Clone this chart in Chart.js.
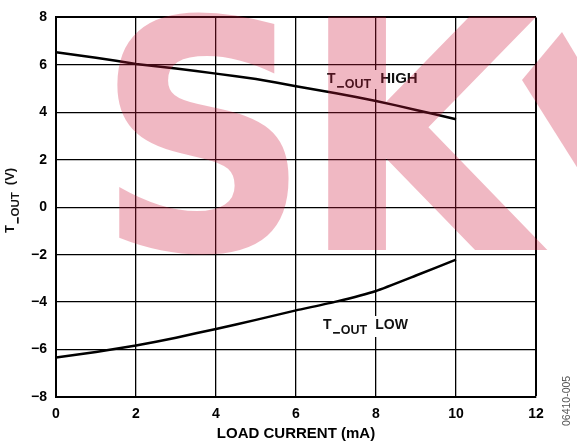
<!DOCTYPE html>
<html><head><meta charset="utf-8">
<script src="https://cdn.jsdelivr.net/npm/chart.js@4.4.1/dist/chart.umd.min.js"></script>
<style>html,body{margin:0;padding:0;background:#fff}#wrap{width:577px;height:445px}</style>
</head><body><div id="wrap"><canvas id="c" width="577" height="445"></canvas></div>
<script>
const loadCurrent = [0, 1, 2, 3, 4, 5, 6, 7, 8, 9, 10];
const toutHigh = [6.53, 6.30, 6.04, 5.85, 5.63, 5.40, 5.10, 4.80, 4.48, 4.10, 3.71];
const toutLow = [-6.34, -6.10, -5.83, -5.50, -5.13, -4.75, -4.35, -3.98, -3.53, -2.88, -2.21];
const xTicks = [0, 2, 4, 6, 8, 10, 12];
const yTicks = [-8, -6, -4, -2, 0, 2, 4, 6, 8];

const FONT = '"Liberation Sans", Arial, sans-serif';

function pts(xs, ys) { return xs.map((x, i) => ({ x: x, y: ys[i] })); }

function drawTout(ctx, x, y, size, subSize, suffix, suffixSize, gap) {
  ctx.textBaseline = 'alphabetic';
  ctx.textAlign = 'left';
  ctx.font = 'bold ' + size + 'px ' + FONT;
  ctx.fillText('T', x, y);
  const w = ctx.measureText('T').width;
  ctx.font = 'bold ' + subSize + 'px ' + FONT;
  ctx.fillRect(x + w + 1.5, y + 3, subSize * 0.55, 1.7);
  const ox = x + w + 1.5 + subSize * 0.62;
  ctx.fillText('OUT', ox, y + 5);
  const w2 = ctx.measureText('OUT').width;
  ctx.font = 'bold ' + suffixSize + 'px ' + FONT;
  ctx.fillText(suffix, ox + w2 + gap, y);
}

const overlay = {
  id: 'overlay',
  afterDatasetsDraw(chart) {
    const ctx = chart.ctx;
    ctx.save();
    // white boxes behind curve labels
    ctx.fillStyle = '#fff';
    ctx.fillRect(325, 70, 100, 19);
    ctx.fillRect(321, 316, 92, 21);
    ctx.fillStyle = '#111';
    drawTout(ctx, 327, 83, 14, 12.5, 'HIGH', 15, 9);
    drawTout(ctx, 323, 329, 14, 12.5, 'LOW', 14, 8);

    // y-axis title (rotated)
    ctx.save();
    ctx.translate(14, 233);
    ctx.rotate(-Math.PI / 2);
    ctx.fillStyle = '#111';
    drawTout(ctx, 0, 0, 13, 11.5, '(V)', 13, 7);
    ctx.restore();

    // side code
    ctx.save();
    ctx.translate(570, 426);
    ctx.rotate(-Math.PI / 2);
    ctx.font = '10.5px ' + FONT;
    ctx.fillStyle = '#555';
    ctx.textAlign = 'left';
    ctx.fillText('06410-005', 0, 0);
    ctx.restore();

    // watermark
    ctx.fillStyle = 'rgba(205,25,60,0.31)';
    ctx.textBaseline = 'alphabetic';
    ctx.textAlign = 'left';
    const letters = [['S', 96, 0.93], ['K', 300, 0.96]];
    letters.forEach(([ch, lx, sx]) => {
      ctx.save();
      ctx.translate(lx, 250);
      ctx.scale(sx, 1);
      ctx.font = 'bold 320px "DejaVu Sans", sans-serif';
      ctx.fillText(ch, 0, 0);
      ctx.restore();
    });
    // partial third letter, cut by the right edge
    ctx.beginPath();
    ctx.moveTo(562, 32);
    ctx.lineTo(580, 62);
    ctx.lineTo(580, 172);
    ctx.lineTo(522, 80);
    ctx.closePath();
    ctx.fill();
    ctx.restore();
  }
};

new Chart(document.getElementById('c'), {
  type: 'line',
  data: {
    datasets: [
      { label: 'T_OUT HIGH', data: pts(loadCurrent, toutHigh), borderColor: '#000', borderWidth: 2.5, pointRadius: 0, tension: 0.15, fill: false },
      { label: 'T_OUT LOW', data: pts(loadCurrent, toutLow), borderColor: '#000', borderWidth: 2.5, pointRadius: 0, tension: 0.15, fill: false }
    ]
  },
  options: {
    responsive: false,
    animation: false,
    layout: { padding: { top: 14, right: 41, left: 0, bottom: 0 } },
    plugins: { legend: { display: false }, tooltip: { enabled: false } },
    scales: {
      x: {
        type: 'linear', min: 0, max: 12,
        afterBuildTicks: s => { s.ticks = xTicks.map(v => ({ value: v })); },
        afterFit: s => { s.height = 48; },
        grid: { color: '#000', lineWidth: c => (c.tick && c.tick.value === 12 ? 2 : 1.3), drawTicks: false },
        border: { display: true, color: '#000', width: 2 },
        ticks: { color: '#000', padding: 9, font: { family: FONT, size: 14, weight: 'bold' }, maxRotation: 0 },
        title: { display: true, text: 'LOAD CURRENT (mA)', color: '#000', font: { family: FONT, size: 15, weight: 'bold' }, padding: { top: 0, bottom: 2 } }
      },
      y: {
        type: 'linear', min: -8, max: 8,
        afterBuildTicks: s => { s.ticks = yTicks.map(v => ({ value: v })); },
        afterFit: s => { s.width = 56; },
        grid: { color: '#000', lineWidth: c => (c.tick && c.tick.value === 8 ? 2 : 1.3), drawTicks: false },
        border: { display: true, color: '#000', width: 2 },
        ticks: { color: '#000', padding: 9, font: { family: FONT, size: 14, weight: 'bold' },
          callback: v => String(v).replace('-', '\u2212') }
      }
    }
  },
  plugins: [overlay]
});
</script></body></html>
